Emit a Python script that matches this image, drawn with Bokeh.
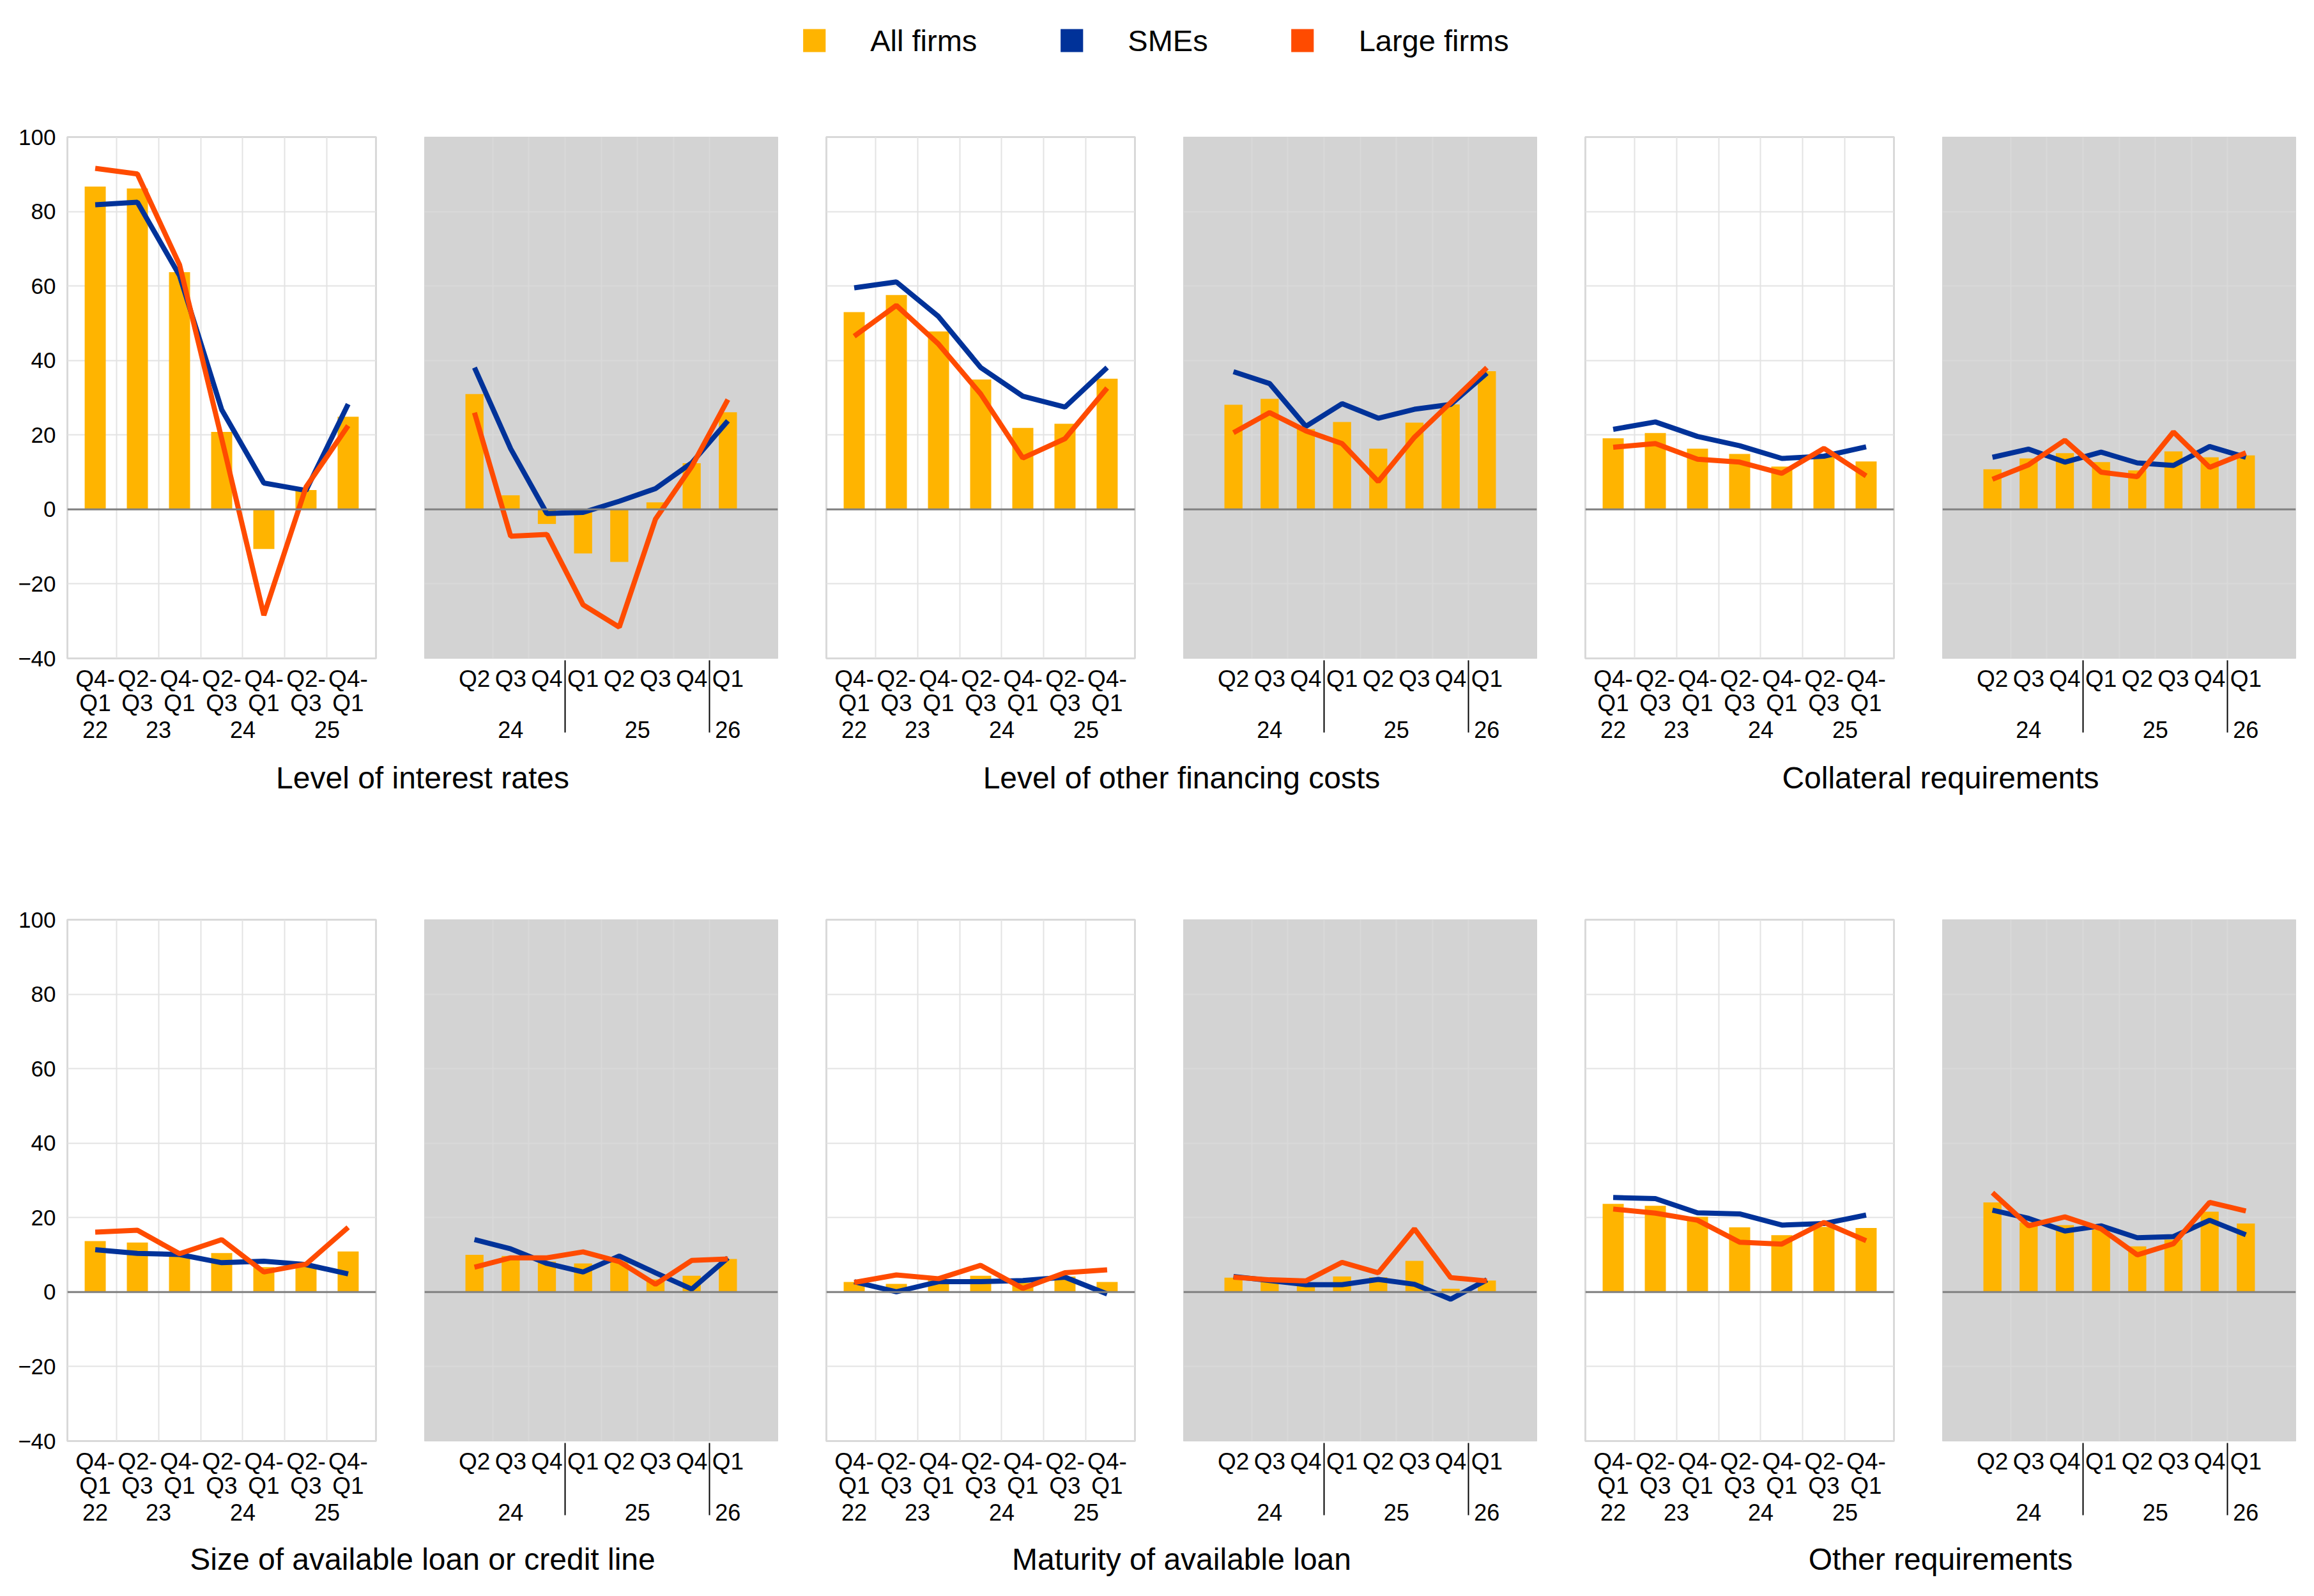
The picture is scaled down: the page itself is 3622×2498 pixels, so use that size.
from bokeh.plotting import figure
from bokeh.layouts import column, row
from bokeh.models import (FactorRange, Range1d, FixedTicker, Span, Legend, LegendItem,
                          Label, CustomJSTickFormatter, ColumnDataSource)
from bokeh.embed import file_html
from bokeh.resources import INLINE

# ---------------- data ----------------
half_year_labels = ["Q4-\nQ1", "Q2-\nQ3", "Q4-\nQ1", "Q2-\nQ3", "Q4-\nQ1", "Q2-\nQ3", "Q4-\nQ1"]
half_year_years = ["22", "23", "23", "24", "24", "25", "25"]
quarter_labels = ["Q2", "Q3", "Q4", "Q1", "Q2", "Q3", "Q4", "Q1"]
quarter_years = ["24", "24", "24", "25", "25", "25", "25", "26"]

series_names = ["All firms", "SMEs", "Large firms"]
titles = ["Level of interest rates", "Level of other financing costs", "Collateral requirements",
          "Size of available loan or credit line", "Maturity of available loan", "Other requirements"]

rates_all_h = [86.7, 86.2, 63.7, 20.8, -10.6, 5.2, 24.9]
rates_sme_h = [81.8, 82.5, 62.8, 26.8, 7.1, 5.1, 28.3]
rates_large_h = [91.6, 90.1, 65.7, 19.0, -28.4, 6.0, 22.5]
rates_all_q = [31.0, 3.8, -3.9, -11.8, -14.1, 1.9, 12.4, 26.1]
rates_sme_q = [38.1, 16.3, -1.1, -0.8, 2.2, 5.6, 12.5, 23.8]
rates_large_q = [26.0, -7.2, -6.7, -25.6, -31.6, -2.6, 11.5, 29.5]

costs_all_h = [53.0, 57.6, 47.8, 34.9, 21.9, 23.0, 35.1]
costs_sme_h = [59.5, 61.1, 51.8, 38.1, 30.4, 27.5, 38.1]
costs_large_h = [46.5, 54.8, 44.4, 31.0, 13.8, 19.0, 32.6]
costs_all_q = [28.1, 29.7, 21.6, 23.5, 16.3, 23.3, 28.2, 37.1]
costs_sme_q = [37.0, 33.8, 22.3, 28.4, 24.5, 26.9, 28.2, 36.6]
costs_large_q = [20.6, 26.0, 21.1, 17.7, 7.5, 19.4, 28.7, 38.1]

coll_all_h = [19.1, 20.5, 16.3, 14.9, 11.5, 14.5, 12.9]
coll_sme_h = [21.5, 23.5, 19.6, 17.1, 13.7, 14.3, 16.8]
coll_large_h = [16.7, 17.7, 13.5, 12.7, 9.7, 16.4, 9.0]
coll_all_q = [10.8, 13.7, 15.1, 12.7, 10.5, 15.6, 14.0, 14.5]
coll_sme_q = [14.0, 16.2, 12.7, 15.4, 12.5, 11.8, 16.9, 14.0]
coll_large_q = [8.1, 12.0, 18.6, 10.0, 8.8, 20.8, 11.3, 15.2]

size_all_h = [13.7, 13.3, 9.8, 10.5, 6.7, 7.2, 10.9]
size_sme_h = [11.4, 10.4, 10.1, 7.9, 8.3, 7.4, 4.9]
size_large_h = [16.1, 16.6, 10.3, 14.1, 5.4, 7.5, 17.4]
size_all_q = [10.0, 9.7, 8.2, 7.7, 8.2, 3.4, 4.4, 8.9]
size_sme_q = [14.1, 11.6, 7.7, 5.4, 9.7, 5.2, 0.8, 9.2]
size_large_q = [6.7, 9.2, 9.2, 10.8, 8.2, 2.1, 8.5, 8.9]

mat_all_h = [2.7, 2.2, 3.3, 4.4, 2.5, 4.2, 2.7]
mat_sme_h = [2.8, 0.1, 2.8, 2.8, 3.1, 4.0, -0.5]
mat_large_h = [2.6, 4.6, 3.6, 7.2, 1.0, 5.2, 6.0]
mat_all_q = [3.9, 3.3, 2.3, 4.2, 4.0, 8.4, 0.9, 3.1]
mat_sme_q = [4.2, 3.1, 2.0, 2.0, 3.4, 2.1, -1.9, 3.3]
mat_large_q = [4.0, 3.3, 3.0, 8.0, 5.2, 17.0, 3.9, 3.0]

other_all_h = [23.7, 23.2, 20.2, 17.4, 15.3, 17.5, 17.2]
other_sme_h = [25.4, 25.1, 21.3, 21.0, 18.0, 18.4, 20.7]
other_large_h = [22.3, 21.2, 19.3, 13.4, 12.9, 18.7, 13.8]
other_all_q = [24.1, 18.7, 18.0, 16.8, 12.3, 14.1, 21.6, 18.4]
other_sme_q = [22.0, 19.8, 16.4, 17.8, 14.6, 14.9, 19.3, 15.4]
other_large_q = [26.7, 17.8, 20.2, 17.0, 10.0, 13.0, 24.1, 21.8]

y_ticks = [-40, -20, 0, 20, 40, 60, 80, 100]

# ---------------- style ----------------
FONT = "Liberation Sans"
YELLOW = "#ffb400"
BLUE = "#003299"
ORANGE = "#ff4b00"
GREY_BG = "#d3d3d3"

W_H, W_Q, GAP = 483, 553, 76
FRAME_H = 816
LEFT0 = 105
HALF = GAP // 2
LEG_H = 126
TOP1, BOT = 88, 150
TITLE1_H = 90
TOP2 = 169
TITLE2_H = 85


def make_panel(kind, allv, sme, large, show_y, bl, br, bt):
    if kind == "h":
        factors = list(zip(half_year_years, half_year_labels))
        pad, fw = 0.16, W_H
    else:
        factors = list(zip(quarter_years, [q + "\n\u00a0" for q in quarter_labels]))
        pad, fw = 0.88, W_Q
    xr = FactorRange(factors=factors, factor_padding=0, group_padding=0, subgroup_padding=0,
                     range_padding=pad, range_padding_units="absolute")
    p = figure(x_range=xr, y_range=Range1d(-40, 100), frame_width=fw, frame_height=FRAME_H,
               min_border_left=bl, min_border_right=br, min_border_top=bt, min_border_bottom=BOT,
               output_backend="svg", toolbar_location=None,
               y_axis_location="left" if show_y else None)
    src = ColumnDataSource(dict(x=factors, a=allv, s=sme, l=large))
    p.vbar(x="x", top="a", bottom=0, width=0.5, source=src, fill_color=YELLOW, line_color=None)
    p.add_layout(Span(location=0, dimension="width", line_color="#808080", line_width=3))
    p.line(x="x", y="s", source=src, line_color=BLUE, line_width=8)
    p.line(x="x", y="l", source=src, line_color=ORANGE, line_width=8)

    n = len(factors)
    p.xgrid.ticker = FixedTicker(ticks=list(range(1, n)))
    p.ygrid.ticker = FixedTicker(ticks=y_ticks)
    if kind == "h":
        p.background_fill_color = "white"
        p.outline_line_color = "#d9d9d9"
        p.outline_line_width = 3
        p.xgrid.grid_line_color = "#e3e3e3"
        p.ygrid.grid_line_color = "#e3e3e3"
    else:
        p.background_fill_color = GREY_BG
        p.outline_line_color = GREY_BG
        p.xgrid.grid_line_color = "#d9d9d9"
        p.ygrid.grid_line_color = "#d9d9d9"
    p.xgrid.grid_line_width = 2
    p.ygrid.grid_line_width = 2

    ax = p.xaxis[0]
    ax.axis_line_color = None
    ax.major_tick_line_color = None
    ax.minor_tick_line_color = None
    ax.major_label_standoff = 5
    ax.major_label_text_font = FONT
    ax.major_label_text_font_size = "37px"
    ax.major_label_text_color = "black"
    ax.major_label_text_line_height = 0.95
    ax.group_text_font = FONT
    ax.group_text_font_size = "36px"
    ax.group_text_font_style = "normal"
    ax.group_text_color = "black"
    if kind == "h":
        ax.separator_line_alpha = 0
    else:
        ax.separator_line_color = "black"
        ax.separator_line_width = 2

    if show_y:
        ya = p.yaxis[0]
        ya.ticker = FixedTicker(ticks=y_ticks)
        ya.axis_line_color = None
        ya.major_tick_line_color = None
        ya.minor_tick_line_color = None
        ya.major_label_standoff = 12
        ya.major_label_text_font = FONT
        ya.major_label_text_font_size = "35px"
        ya.major_label_text_color = "black"
        ya.formatter = CustomJSTickFormatter(
            code="return tick < 0 ? '\u2212' + Math.abs(tick) : String(tick);")
    return p


def title_fig(text, width, height, cx, cy):
    p = figure(width=width, height=height, x_range=Range1d(0, width), y_range=Range1d(0, height),
               min_border=0, toolbar_location=None, output_backend="svg",
               x_axis_location=None, y_axis_location=None, outline_line_color=None)
    p.grid.visible = False
    p.add_layout(Label(x=cx, y=cy, text=text, text_align="center", text_baseline="middle",
                       text_font=FONT, text_font_size="48px", text_color="black"))
    return p


def panel_row(sets, bt, row_titles, title_h, title_center_from_top):
    figs = []
    borders = [(LEFT0, HALF), (HALF, HALF), (HALF, HALF), (HALF, HALF), (HALF, HALF), (HALF, 21)]
    for i, (allh, smeh, largeh, allq, smeq, largeq) in enumerate(sets):
        bl1, br1 = borders[2 * i]
        bl2, br2 = borders[2 * i + 1]
        figs.append(make_panel("h", allh, smeh, largeh, i == 0, bl1, br1, bt))
        figs.append(make_panel("q", allq, smeq, largeq, False, bl2, br2, bt))
    tfigs = []
    for i in range(3):
        bl1, br1 = borders[2 * i]
        bl2, br2 = borders[2 * i + 1]
        w = bl1 + W_H + br1 + bl2 + W_Q + br2
        cx = (bl1 + (bl1 + W_H + br1 + bl2 + W_Q)) / 2
        tfigs.append(title_fig(row_titles[i], w, title_h, cx, title_h - title_center_from_top))
    return row(*figs), row(*tfigs)


# legend (its swatch renderers sit outside the visible range; only the legend shows)
leg = figure(width=3614, height=LEG_H, x_range=Range1d(0, 1), y_range=Range1d(0, 1),
             min_border=0, toolbar_location=None, output_backend="svg",
             x_axis_location=None, y_axis_location=None, outline_line_color=None)
leg.grid.visible = False
items = []
for name, col in zip(series_names, [YELLOW, BLUE, ORANGE]):
    r = leg.vbar(x=[10], top=[10], bottom=[9], width=0.5, fill_color=col, line_color=None)
    items.append(LegendItem(label=name, renderers=[r]))
legend = Legend(items=items, orientation="horizontal", location="center",
                glyph_width=44, glyph_height=45, label_standoff=66, spacing=126,
                label_text_font=FONT, label_text_font_size="47px", label_text_color="black",
                border_line_alpha=0, background_fill_alpha=0, padding=0, margin=0)
leg.add_layout(legend)

r1, t1 = panel_row([
    (rates_all_h, rates_sme_h, rates_large_h, rates_all_q, rates_sme_q, rates_large_q),
    (costs_all_h, costs_sme_h, costs_large_h, costs_all_q, costs_sme_q, costs_large_q),
    (coll_all_h, coll_sme_h, coll_large_h, coll_all_q, coll_sme_q, coll_large_q),
], TOP1, titles[:3], TITLE1_H, 37)

r2, t2 = panel_row([
    (size_all_h, size_sme_h, size_large_h, size_all_q, size_sme_q, size_large_q),
    (mat_all_h, mat_sme_h, mat_large_h, mat_all_q, mat_sme_q, mat_large_q),
    (other_all_h, other_sme_h, other_large_h, other_all_q, other_sme_q, other_large_q),
], TOP2, titles[3:], TITLE2_H, 35)

page = column(leg, r1, t1, r2, t2)
open("out.html", "w").write(file_html(page, INLINE))
